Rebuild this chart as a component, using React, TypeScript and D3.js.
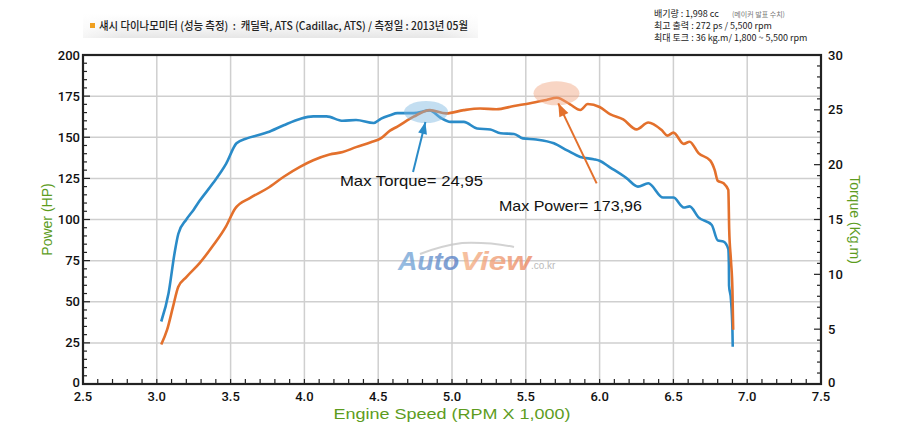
import React from 'react';
import * as d3 from 'd3';

// ---- data ----
const powerRpm = [3.03, 3.07, 3.11, 3.145, 3.2, 3.29, 3.38, 3.47, 3.53, 3.63, 3.75, 3.86, 3.97, 4.06, 4.17, 4.26, 4.35, 4.45, 4.52, 4.58, 4.63, 4.74, 4.85, 4.96, 5.08, 5.19, 5.3, 5.42, 5.53, 5.64, 5.71, 5.8, 5.87, 5.92, 6.0, 6.07, 6.16, 6.25, 6.33, 6.42, 6.46, 6.5, 6.57, 6.61, 6.67, 6.75, 6.78, 6.8, 6.84, 6.872, 6.878, 6.89, 6.9, 6.905];
const powerHp = [24, 33, 47, 59, 65, 73.5, 84, 96, 106.5, 113, 119, 126, 132, 136, 139.5, 141, 144, 147, 149.5, 154, 156.5, 162.5, 166.5, 164.5, 166.5, 167.5, 167, 169, 170.7, 172.7, 174, 170, 166.6, 170.2, 168.4, 164, 160.8, 154.8, 159, 154.4, 151, 152.8, 146, 147.3, 140.3, 135.8, 130, 123.6, 122, 118, 94, 75, 57, 33];

const torqueRpm = [3.03, 3.08, 3.12, 3.146, 3.2, 3.25, 3.29, 3.38, 3.47, 3.54, 3.61, 3.69, 3.75, 3.86, 3.97, 4.06, 4.15, 4.26, 4.35, 4.47, 4.52, 4.58, 4.63, 4.74, 4.85, 4.92, 4.99, 5.08, 5.17, 5.26, 5.33, 5.42, 5.48, 5.57, 5.69, 5.78, 5.87, 5.96, 6.0, 6.07, 6.18, 6.26, 6.33, 6.43, 6.5, 6.57, 6.61, 6.67, 6.76, 6.8, 6.84, 6.872, 6.876, 6.877, 6.89, 6.9, 6.902];
const torqueKgm = [5.7, 8.3, 11.9, 13.7, 15.0, 15.9, 16.7, 18.3, 20.1, 21.95, 22.4, 22.7, 22.95, 23.6, 24.17, 24.4, 24.4, 24.0, 24.07, 23.8, 24.2, 24.5, 24.7, 24.7, 24.95, 24.3, 23.9, 23.9, 23.3, 23.2, 22.86, 22.8, 22.4, 22.3, 21.95, 21.3, 20.7, 20.5, 20.36, 19.76, 18.8, 18.0, 18.3, 17.0, 17.0, 16.1, 16.2, 15.2, 14.5, 13.1, 12.98, 12.3, 10.8, 9.0, 7.7, 4.9, 3.4];

const xTicks = [2.5, 3.0, 3.5, 4.0, 4.5, 5.0, 5.5, 6.0, 6.5, 7.0, 7.5];
const hpTicks = [0, 25, 50, 75, 100, 125, 150, 175, 200];
const kgmTicks = [0, 5, 10, 15, 20, 25, 30];

const titleText = '섀시 다이나모미터 (성능 측정)  :  캐딜락, ATS (Cadillac, ATS) / 측정일 : 2013년 05월';
const specLines = ['배기량 : 1,998 cc', '최고 출력 : 272 ps / 5,500 rpm', '최대 토크 : 36 kg.m/ 1,800 ~ 5,500 rpm'];
const specNote = '(메이커 발표 수치)';

const torqueNote = { label: 'Max Torque= 24,95', textRpm: 4.241, textVal: 18.05, tipRpm: 4.82, tipVal: 23.9, tailRpm: 4.736, tailVal: 19.33, cRpm: 4.824, cVal: 24.8 };
const powerNote = { label: 'Max Power= 173,96', textRpm: 5.318, textVal: 105.2, tipRpm: 5.72, tipVal: 170.6, tailRpm: 5.98, tailVal: 122, cRpm: 5.708, cVal: 176.7 };

const W = 900, H = 436;
const L = 83, R = 821, T = 55, B = 384;
const ORANGE = '#e3702c';
const BLUE = '#2a8bc8';
const GREEN = '#5d9c1e';
const tickFont = "Roboto, 'Liberation Sans', sans-serif";

function arrowHead(x1: number, y1: number, x2: number, y2: number, len: number, half: number) {
  const a = Math.atan2(y2 - y1, x2 - x1);
  const bx = x2 - len * Math.cos(a), by = y2 - len * Math.sin(a);
  const px = -Math.sin(a) * half, py = Math.cos(a) * half;
  return `M${x2},${y2}L${bx + px},${by + py}L${bx - px},${by - py}Z`;
}

export default function App() {
  const x = d3.scaleLinear().domain([2.5, 7.5]).range([L, R]);
  const yL = d3.scaleLinear().domain([0, 200]).range([B, T]);
  const yR = d3.scaleLinear().domain([0, 30]).range([B, T]);

  const powerLine = d3.line<number>().x((_, i) => x(powerRpm[i])).y(d => yL(d)).curve(d3.curveMonotoneX);
  const torqueLine = d3.line<number>().x((_, i) => x(torqueRpm[i])).y(d => yR(d)).curve(d3.curveMonotoneX);

  const hpMinor = d3.range(0, 201, 5);
  const kgmMinor = d3.range(0, 31, 1);
  const xMinor = d3.range(25, 76, 1).map(v => v / 10);

  const tq = torqueNote, pw = powerNote;
  const tTip = [x(tq.tipRpm), yR(tq.tipVal)], tTail = [x(tq.tailRpm), yR(tq.tailVal)];
  const pTip = [x(pw.tipRpm), yL(pw.tipVal)], pTail = [x(pw.tailRpm), yL(pw.tailVal)];

  return (
    <div style={{ position: 'absolute', left: 0, top: 0 }}>
      <svg width={W} height={H} style={{ display: 'block', background: '#fff' }}>
        <defs>
          <linearGradient id="hdr" x1="0" y1="0" x2="0" y2="1">
            <stop offset="0" stopColor="#ffffff" />
            <stop offset="0.6" stopColor="#f4f4f4" />
            <stop offset="1" stopColor="#e6e6e6" />
          </linearGradient>
          <linearGradient id="hdrx" x1="0" y1="0" x2="1" y2="0">
            <stop offset="0" stopColor="#fff" stopOpacity="0.6" />
            <stop offset="0.1" stopColor="#fff" stopOpacity="0" />
            <stop offset="0.9" stopColor="#fff" stopOpacity="0" />
            <stop offset="1" stopColor="#fff" stopOpacity="0.6" />
          </linearGradient>
          <linearGradient id="wmBlue" x1="0" y1="0" x2="1" y2="0">
            <stop offset="0" stopColor="#7fb0dc" />
            <stop offset="1" stopColor="#5a7fc4" />
          </linearGradient>
          <linearGradient id="wmOrange" x1="0" y1="0" x2="1" y2="0">
            <stop offset="0" stopColor="#f5b48a" />
            <stop offset="1" stopColor="#ec8a66" />
          </linearGradient>
        </defs>

        {/* header */}
        <rect x={83} y={14} width={395} height={24} fill="url(#hdr)" />
        <rect x={83} y={14} width={395} height={24} fill="url(#hdrx)" />
        <rect x={90} y={23} width={5} height={5} fill="#f0a020" />
        <text x={99} y={30} fontFamily="'Noto Sans CJK KR', sans-serif" fontSize={11} fontWeight={500} fill="#222" textLength={369} lengthAdjust="spacingAndGlyphs" style={{ whiteSpace: 'pre' }}>{titleText}</text>

        {specLines.map((s, i) => (
          <text key={i} x={654} y={17 + i * 12} fontFamily="'Noto Sans CJK KR', sans-serif" fontSize={9} fill="#222">{s}</text>
        ))}
        <text x={732} y={17} fontFamily="'Noto Sans CJK KR', sans-serif" fontSize={7} fill="#777">{specNote}</text>

        {/* grid */}
        {xTicks.slice(1, -1).map(t => (
          <line key={'gx' + t} x1={x(t)} x2={x(t)} y1={T} y2={B} stroke="#cfcfcf" strokeWidth={1.5} />
        ))}
        {hpTicks.slice(1, -1).map(t => (
          <line key={'gy' + t} x1={L} x2={R} y1={yL(t)} y2={yL(t)} stroke="#cfcfcf" strokeWidth={1.5} />
        ))}

        {/* watermark */}
        <g opacity={0.8}>
          <path d="M420,254 Q440,246 462,243 Q490,242 514,247" fill="none" stroke="#c8c8c8" strokeWidth={2} />
          <text x={398} y={270} fontFamily="'Liberation Sans', Arial, sans-serif" fontWeight="bold" fontStyle="italic" fontSize={25} fill="url(#wmBlue)" textLength={61} lengthAdjust="spacingAndGlyphs">Auto</text>
          <text x={460} y={270} fontFamily="'Liberation Sans', Arial, sans-serif" fontWeight="bold" fontStyle="italic" fontSize={25} fill="url(#wmOrange)" textLength={71} lengthAdjust="spacingAndGlyphs">View</text>
          <text x={531} y={269} fontFamily="'Liberation Sans', Arial, sans-serif" fontSize={10} fill="#aaa">.co.kr</text>
        </g>

        {/* curves */}
        <path d={torqueLine(torqueKgm) || ''} fill="none" stroke={BLUE} strokeWidth={2.6} strokeLinejoin="round" />
        <path d={powerLine(powerHp) || ''} fill="none" stroke={ORANGE} strokeWidth={2.6} strokeLinejoin="round" />

        {/* highlight ellipses */}
        <ellipse cx={x(tq.cRpm)} cy={yR(tq.cVal)} rx={22} ry={11} fill="#7ab6e0" opacity={0.45} />
        <ellipse cx={x(pw.cRpm)} cy={yL(pw.cVal)} rx={23} ry={12} fill="#f0a27c" opacity={0.45} />

        {/* arrows */}
        <line x1={tTail[0]} y1={tTail[1]} x2={tTip[0]} y2={tTip[1]} stroke={BLUE} strokeWidth={2} />
        <path d={arrowHead(tTail[0], tTail[1], tTip[0], tTip[1], 12, 4.5)} fill={BLUE} />
        <line x1={pTail[0]} y1={pTail[1]} x2={pTip[0]} y2={pTip[1]} stroke={ORANGE} strokeWidth={2} />
        <path d={arrowHead(pTail[0], pTail[1], pTip[0], pTip[1], 13, 5)} fill={ORANGE} />

        <text x={x(tq.textRpm)} y={yR(tq.textVal)} fontFamily="'Liberation Sans', Arial, sans-serif" fontSize={15} fill="#111" textLength={143} lengthAdjust="spacingAndGlyphs">{tq.label}</text>
        <text x={x(pw.textRpm)} y={yL(pw.textVal)} fontFamily="'Liberation Sans', Arial, sans-serif" fontSize={15} fill="#111" textLength={143} lengthAdjust="spacingAndGlyphs">{pw.label}</text>

        {/* ticks */}
        {hpMinor.map(t => (
          <line key={'lt' + t} x1={L} x2={L + (t % 25 === 0 ? 7 : 4)} y1={yL(t)} y2={yL(t)} stroke="#222" strokeWidth={1.2} />
        ))}
        {kgmMinor.map(t => (
          <line key={'rt' + t} x1={R} x2={R - (t % 5 === 0 ? 7 : 4)} y1={yR(t)} y2={yR(t)} stroke="#222" strokeWidth={1.2} />
        ))}
        {xMinor.map(t => (
          <line key={'bt' + t} x1={x(t)} x2={x(t)} y1={B} y2={B - 5} stroke="#222" strokeWidth={1.2} />
        ))}

        {/* frame */}
        <rect x={L} y={T} width={R - L} height={B - T} fill="none" stroke="#222" strokeWidth={2.2} />

        {/* tick labels */}
        {hpTicks.map(t => (
          <text key={'ll' + t} x={L - 3} y={yL(t) + (t === 0 ? 3 : 4.5)} textAnchor="end" fontFamily={tickFont} fontWeight={500} fontSize={13} fill="#111">{t}</text>
        ))}
        {kgmTicks.map(t => (
          <text key={'rl' + t} x={R + 7} y={yR(t) + (t === 0 ? 3 : 4.5)} textAnchor="start" fontFamily={tickFont} fontWeight={500} fontSize={13} fill="#111">{t}</text>
        ))}
        {xTicks.map(t => (
          <text key={'xl' + t} x={x(t)} y={B + 17} textAnchor="middle" fontFamily={tickFont} fontWeight={500} fontSize={13} fill="#111">{t.toFixed(1)}</text>
        ))}

        {/* axis titles */}
        <text transform={`translate(52,${(T + B) / 2}) rotate(-90)`} textAnchor="middle" fontFamily="'Liberation Sans', Arial, sans-serif" fontSize={14} fill={GREEN}>Power (HP)</text>
        <text transform={`translate(850,${(T + B) / 2}) rotate(90)`} textAnchor="middle" fontFamily="'Liberation Sans', Arial, sans-serif" fontSize={14} fill={GREEN}>Torque (Kg.m)</text>
        <text x={(L + R) / 2} y={419} textAnchor="middle" fontFamily="'Liberation Sans Narrow', 'Liberation Sans', Arial, sans-serif" fontSize={15} fill={GREEN} textLength={237} lengthAdjust="spacingAndGlyphs">Engine Speed (RPM X 1,000)</text>
      </svg>
    </div>
  );
}
